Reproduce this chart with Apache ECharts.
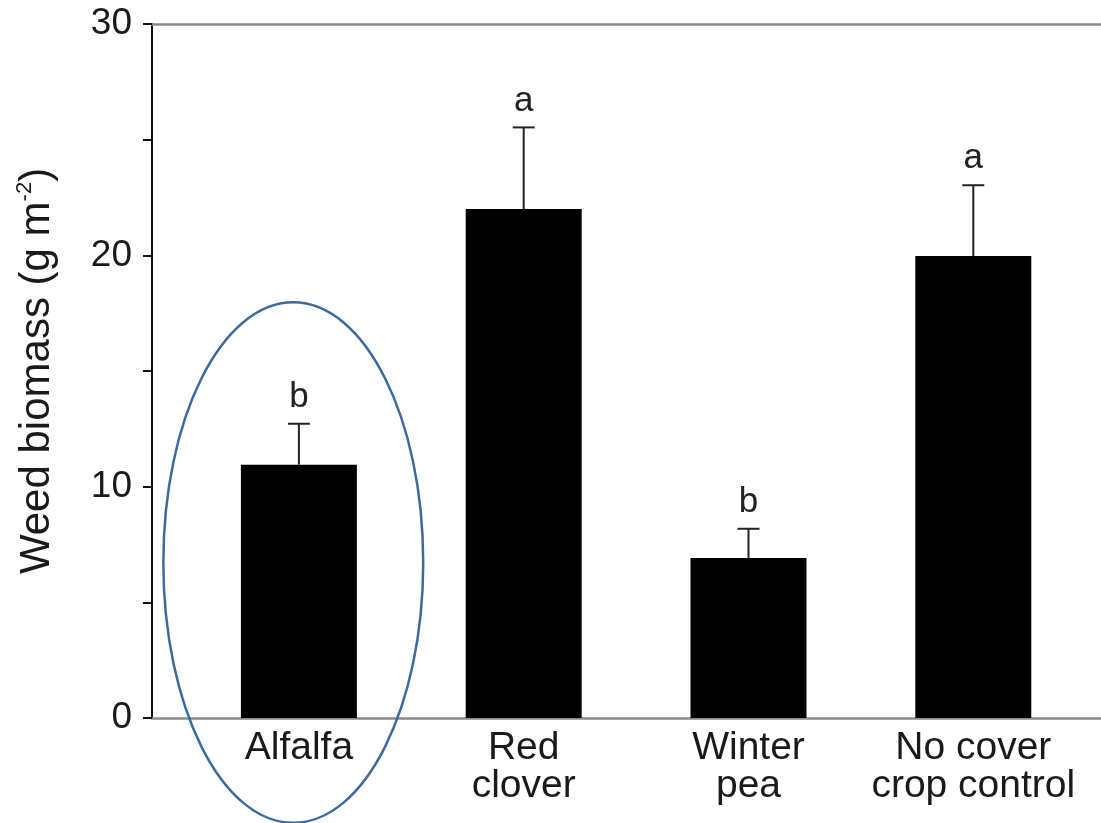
<!DOCTYPE html>
<html>
<head>
<meta charset="utf-8">
<script src="https://cdn.jsdelivr.net/npm/echarts@6/dist/echarts.min.js"></script>
<style>
  html, body { margin: 0; padding: 0; background: #fff; }
  #chart { width: 1101px; height: 823px; }
</style>
</head>
<body>
<div id="chart"></div>
<script>
// ---- data ----
const categories = ['Alfalfa', 'Red\nclover', 'Winter\npea', 'No cover\ncrop control'];
const biomass = [10.95, 22.0, 6.92, 19.97];
const errorTop = [12.72, 25.53, 8.18, 23.03];
const letters = ['b', 'a', 'b', 'a'];
const yMin = 0, yMax = 30, yMinorStep = 5, yLabelStep = 10;
// highlight ellipse around the first category: [category, y value] and radii [bands, y units]
const highlightCenter = [0, 6.72];
const highlightRadii = [0.578, 11.25];
const highlightShift = -0.025; // in band widths

const FONT = '"Liberation Sans", Arial, Helvetica, sans-serif';
const chart = echarts.init(document.getElementById('chart'));

const option = {
  backgroundColor: '#ffffff',
  animation: false,
  grid: [
    { left: 152, right: -10, top: 24, bottom: 105, containLabel: false },
    { left: 186.5, right: 15.3, top: 24, bottom: 105, containLabel: false }
  ],
  xAxis: [
    { gridIndex: 0, type: 'value', min: 0, max: 1, position: 'bottom',
      axisLine: { show: true, lineStyle: { color: '#8a8a8a', width: 2.5 } },
      axisTick: { show: false }, axisLabel: { show: false }, splitLine: { show: false } },
    { gridIndex: 1, type: 'category', data: categories,
      axisLine: { show: false }, axisTick: { show: false }, splitLine: { show: false },
      axisLabel: { color: '#1a1a1a', fontFamily: FONT, fontSize: 39, lineHeight: 38, margin: 11, interval: 0 } },
    { gridIndex: 0, type: 'value', min: 0, max: 1, position: 'top',
      axisLine: { show: true, lineStyle: { color: '#8a8a8a', width: 2.5 } },
      axisTick: { show: false }, axisLabel: { show: false }, splitLine: { show: false } }
  ],
  yAxis: [
    { gridIndex: 0, type: 'value', min: yMin, max: yMax, interval: yMinorStep,
      axisLine: { show: true, lineStyle: { color: '#111', width: 2 } },
      axisTick: { show: true, inside: false, length: 9, lineStyle: { color: '#111', width: 2 } },
      splitLine: { show: false },
      axisLabel: { color: '#1a1a1a', fontFamily: FONT, fontSize: 37, margin: 20,
        formatter: v => (v % yLabelStep === 0 ? String(v) : '') },
      name: '{n|Weed biomass (g m}{s|-2}{n|)}',
      nameLocation: 'middle', nameGap: 92, nameRotate: 90,
      nameTextStyle: {
        rich: {
          n: { fontFamily: FONT, fontSize: 42, color: '#1a1a1a', lineHeight: 46 },
          s: { fontFamily: FONT, fontSize: 22, color: '#1a1a1a', verticalAlign: 'top', lineHeight: 22 }
        }
      } },
    { gridIndex: 1, type: 'value', min: yMin, max: yMax, show: false }
  ],
  series: [
    { type: 'bar', xAxisIndex: 1, yAxisIndex: 1, data: biomass, barWidth: 116,
      itemStyle: { color: '#000' }, z: 2 },
    { type: 'custom', xAxisIndex: 1, yAxisIndex: 1, z: 3,
      data: categories.map((c, i) => [i, biomass[i], errorTop[i]]),
      renderItem: function (params, api) {
        const x = api.value(0), v = api.value(1), e = api.value(2);
        const p0 = api.coord([x, v]);
        const p1 = api.coord([x, e]);
        return { type: 'group', children: [
          { type: 'line', shape: { x1: p0[0], y1: p0[1], x2: p1[0], y2: p1[1] },
            style: { stroke: '#222', lineWidth: 2 } },
          { type: 'line', shape: { x1: p1[0] - 11, y1: p1[1], x2: p1[0] + 11, y2: p1[1] },
            style: { stroke: '#222', lineWidth: 2 } },
          { type: 'text', x: p1[0], y: p1[1] - 9,
            style: { text: letters[params.dataIndex], font: '35px ' + FONT, fill: '#222',
              align: 'center', verticalAlign: 'bottom' } }
        ] };
      } },
    { type: 'custom', xAxisIndex: 1, yAxisIndex: 1, z: 4, clip: false,
      data: [highlightCenter],
      renderItem: function (params, api) {
        const c = api.coord([api.value(0), api.value(1)]);
        const band = api.size([1, 0])[0];
        const ry = api.size([0, highlightRadii[1]])[1];
        return { type: 'ellipse',
          shape: { cx: c[0] + highlightShift * band, cy: c[1], rx: highlightRadii[0] * band, ry: ry },
          style: { fill: 'none', stroke: '#3b6b9e', lineWidth: 2.5 } };
      } }
  ]
};
chart.setOption(option);
</script>
</body>
</html>
